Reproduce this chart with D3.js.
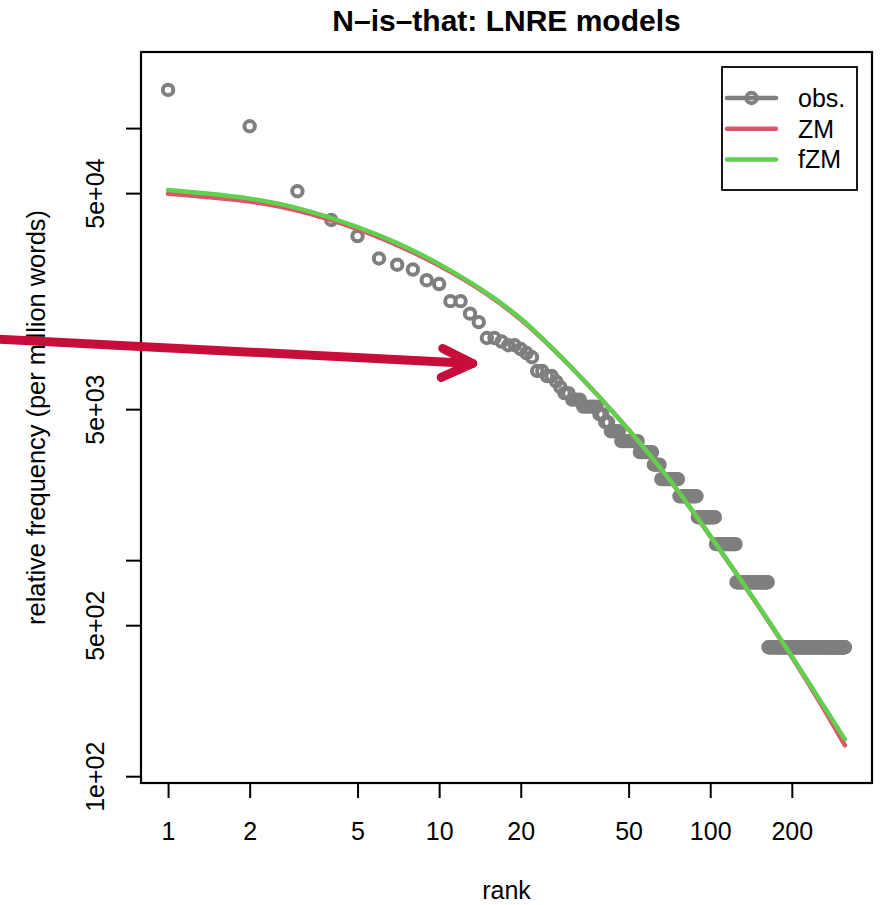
<!DOCTYPE html>
<html>
<head>
<meta charset="utf-8">
<script src="https://cdn.jsdelivr.net/npm/d3@7"></script>
<style>
  body { margin: 0; background: #fff; }
  svg { display: block; font-family: "Liberation Sans", Arial, Helvetica, sans-serif; }
</style>
</head>
<body>
<svg id="chart" width="882" height="905"></svg>
<script>
// observed counts for the most frequent types (rank 1 .. 46)
const topCounts = [380, 258, 129, 95, 80, 63, 59, 56, 50, 48, 40, 40, 35, 32, 27, 27,
  26, 25, 25, 24, 23, 22, 19, 19, 18, 18, 17, 16, 15, 15, 14, 14, 14, 13, 13, 13, 13, 13,
  12, 12, 11, 11, 10, 10, 10, 10];
// rest of the frequency spectrum: count m and number of types V_m with that count
const spectrumM = [9, 8, 7, 6, 5, 4, 3, 2, 1];
const spectrumVm = [8, 7, 4, 11, 13, 15, 20, 39, 151];

// expected relative frequencies (per million words) of the two models
const modelRanks = [1, 2, 3, 5, 7, 10, 15, 20, 30, 50, 70, 100, 150, 200, 250, 314];
const zmValues = [49640, 45670, 41500, 34080, 28730, 23090, 17040, 12990, 8045, 4015,
  2397, 1291, 616, 356, 227, 139];
const fzmValues = [51640, 47160, 42620, 34810, 29350, 23460, 17220, 13130, 8045, 4015,
  2402, 1296, 620, 359, 232, 148];

const xTicks = [1, 2, 5, 10, 20, 50, 100, 200];
const yTicks = [1e2, 5e2, 1e3, 5e3, 1e4, 5e4, 1e5];
const yTickLabels = ["1e+02", "5e+02", "", "5e+03", "", "5e+04", ""];
const yDomain = [93, 225000];

const seriesNames = ["obs.", "ZM", "fZM"];
const colors = { obs: "#7f7f7f", zm: "#df536b", fzm: "#61d04f" };

// expand the spectrum into a rank / frequency list
let counts = topCounts.slice();
spectrumM.forEach((m, i) => { for (let k = 0; k < spectrumVm[i]; k++) counts.push(m); });
const tokens = d3.sum(counts);
const obs = counts.map((c, i) => ({ rank: i + 1, value: c / tokens * 1e6 }));

const svg = d3.select("#chart");
const mLeft = 141, mRight = 872, mTop = 52, mBottom = 783;

// log x axis extended by 4% on both sides, as R does
const lx = Math.log10(obs.length);
const xScale = d3.scaleLog()
    .domain([10 ** (-0.04 * lx), 10 ** (1.04 * lx)])
    .range([mLeft, mRight]);
const yScale = d3.scaleLog()
    .domain(yDomain)
    .range([mBottom, mTop]);

// title
svg.append("text")
    .attr("x", (mLeft + mRight) / 2).attr("y", 31)
    .attr("text-anchor", "middle")
    .attr("font-size", 30).attr("font-weight", "bold")
    .text("N\u2013is\u2013that: LNRE models");

// observed points
svg.append("g")
  .selectAll("circle")
  .data(obs)
  .enter()
  .append("circle")
    .attr("cx", d => xScale(d.rank))
    .attr("cy", d => yScale(d.value))
    .attr("r", 5.2)
    .attr("fill", "none")
    .attr("stroke", colors.obs)
    .attr("stroke-width", 4);

// model lines
const line = d3.line()
    .x(d => xScale(d[0]))
    .y(d => yScale(d[1]))
    .curve(d3.curveCatmullRom.alpha(0.5));

[[zmValues, colors.zm], [fzmValues, colors.fzm]].forEach(([vals, col]) => {
  svg.append("path")
      .datum(modelRanks.map((r, i) => [r, vals[i]]))
      .attr("d", line)
      .attr("fill", "none")
      .attr("stroke", col)
      .attr("stroke-width", 4.5)
      .attr("stroke-linecap", "round");
});

// plot box
svg.append("rect")
    .attr("x", mLeft).attr("y", mTop)
    .attr("width", mRight - mLeft).attr("height", mBottom - mTop)
    .attr("fill", "none").attr("stroke", "#000").attr("stroke-width", 2.2);

// axes
const xAxis = svg.append("g")
    .attr("transform", `translate(0,${mBottom})`)
    .call(d3.axisBottom(xScale).tickValues(xTicks).tickFormat(d3.format("d")).tickSize(15));
xAxis.select(".domain").remove();
xAxis.selectAll(".tick line").attr("stroke-width", 2);
xAxis.selectAll(".tick text")
    .attr("y", 57).attr("dy", null)
    .attr("font-size", 25).attr("font-family", null).attr("fill", "#000");

const yAxis = svg.append("g")
    .attr("transform", `translate(${mLeft},0)`)
    .call(d3.axisLeft(yScale).tickValues(yTicks).tickFormat((d, i) => yTickLabels[i]).tickSize(15));
yAxis.select(".domain").remove();
yAxis.selectAll(".tick line").attr("stroke-width", 2);
yAxis.selectAll(".tick text")
    .attr("x", null).attr("dy", null)
    .attr("transform", "translate(-37,0) rotate(-90)")
    .attr("text-anchor", "middle")
    .attr("font-size", 25).attr("font-family", null).attr("fill", "#000");
svg.selectAll(".tick line").attr("stroke", "#000");

// axis titles
svg.append("text")
    .attr("x", (mLeft + mRight) / 2).attr("y", 899)
    .attr("text-anchor", "middle").attr("font-size", 25)
    .text("rank");
svg.append("text")
    .attr("transform", `translate(45,${(mTop + mBottom) / 2}) rotate(-90)`)
    .attr("text-anchor", "middle").attr("font-size", 25.4)
    .text("relative frequency (per million words)");

// legend
const lg = svg.append("g").attr("transform", "translate(722,67)");
lg.append("rect")
    .attr("width", 135).attr("height", 123)
    .attr("fill", "#fff").attr("stroke", "#000").attr("stroke-width", 1.8);
const legendColors = [colors.obs, colors.zm, colors.fzm];
seriesNames.forEach((name, i) => {
  const y = 31 + i * 30.7;
  lg.append("line")
      .attr("x1", 5).attr("x2", 54).attr("y1", y).attr("y2", y)
      .attr("stroke", legendColors[i]).attr("stroke-width", 4.5)
      .attr("stroke-linecap", "round");
  if (i === 0) {
    lg.append("circle")
        .attr("cx", 29.5).attr("cy", y).attr("r", 5.2)
        .attr("fill", "none").attr("stroke", colors.obs).attr("stroke-width", 4);
  }
  lg.append("text")
      .attr("x", 76).attr("y", y + 9)
      .attr("font-size", 25)
      .text(name);
});

// red annotation arrow pointing at the kink of the observed curve
const arrowTail = [0.23, 10550];
const arrowTip = [13.3, 8140];
const tip = [xScale(arrowTip[0]), yScale(arrowTip[1])];
const arrow = svg.append("g")
    .attr("fill", "none").attr("stroke", "#c70d3a")
    .attr("stroke-width", 9).attr("stroke-linecap", "round").attr("stroke-linejoin", "round");
arrow.append("line")
    .attr("x1", xScale(arrowTail[0])).attr("y1", yScale(arrowTail[1]))
    .attr("x2", tip[0]).attr("y2", tip[1]);
arrow.append("path")
    .attr("d", `M${tip[0] - 30},${tip[1] - 15}L${tip[0]},${tip[1]}L${tip[0] - 31.5},${tip[1] + 14}`);
</script>
</body>
</html>
